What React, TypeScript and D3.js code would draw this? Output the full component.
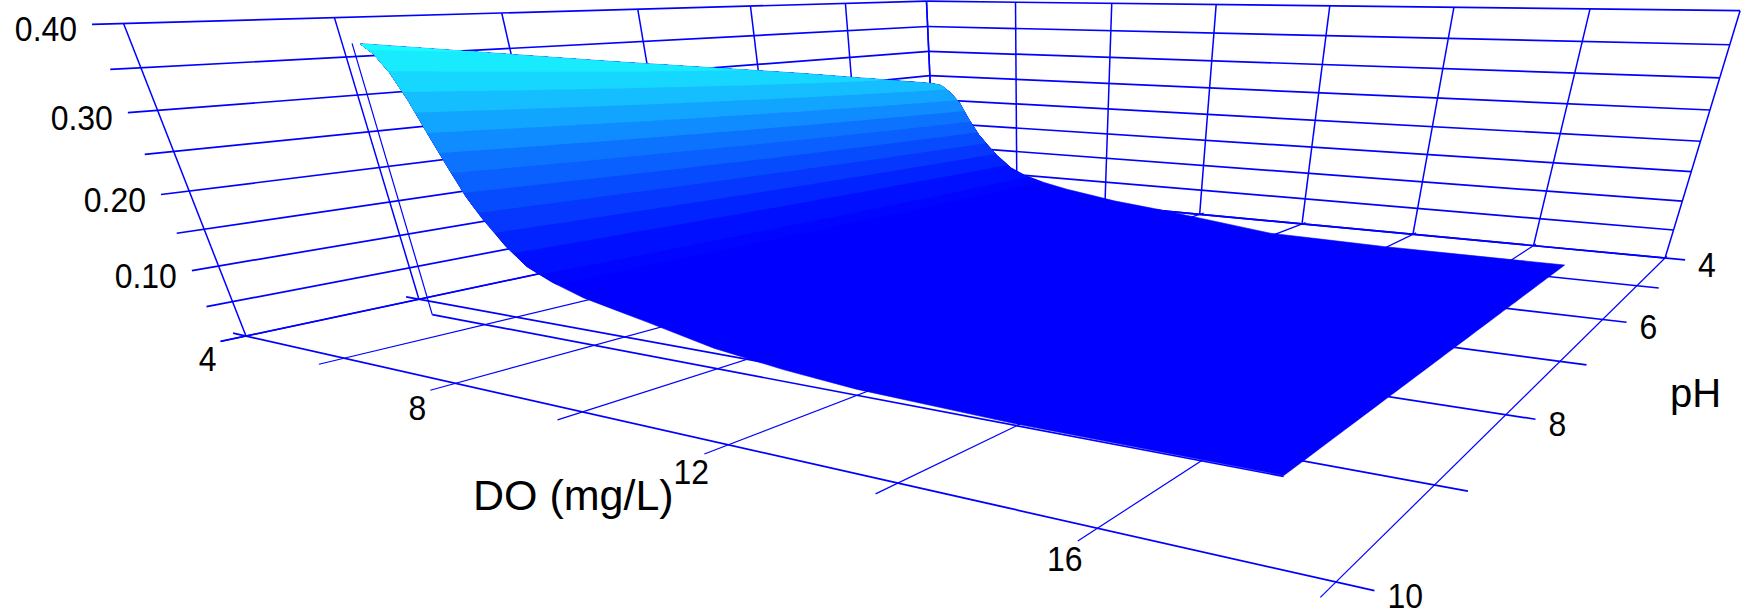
import React from "react";
import * as d3 from "d3";

// ---- data ----
const doTicks = [4, 6, 8, 10, 12, 14, 16, 18];
const doLabels = [4, 8, 12, 16];
const phTicks = [4, 5, 6, 7, 8, 9, 10];
const phLabels = [4, 6, 8, 10];
const zTicks = [0, 0.05, 0.1, 0.15, 0.2, 0.25, 0.3, 0.35, 0.4];
const zLabels = [0.1, 0.2, 0.3, 0.4];

const surfaceDO = [5.1, 5.3, 5.5, 5.7, 5.9, 6.1, 6.3, 6.5, 6.8, 7.1, 7.5, 8, 9, 10, 11, 12, 14, 16.8];
const surfacePH = [4.6, 6.1, 7.7, 9.2];
const zAtPH46 = [0.248, 0.245, 0.232, 0.212, 0.18, 0.152, 0.131, 0.112, 0.089, 0.076, 0.065, 0.055, 0.04, 0.03, 0.018, 0.006, 0.002, 0.001];
const zAtPH61 = [0.29, 0.283, 0.268, 0.243, 0.208, 0.175, 0.149, 0.127, 0.101, 0.084, 0.071, 0.059, 0.043, 0.029, 0.017, 0.007, 0.002, 0.001];
const zAtPH77 = [0.331, 0.322, 0.303, 0.275, 0.236, 0.199, 0.166, 0.143, 0.113, 0.091, 0.076, 0.063, 0.045, 0.028, 0.016, 0.008, 0.002, 0.001];
const zAtPH92 = [0.372, 0.36, 0.338, 0.305, 0.263, 0.223, 0.185, 0.158, 0.124, 0.099, 0.082, 0.067, 0.048, 0.028, 0.016, 0.008, 0.002, 0.001];
const surfaceRows = [zAtPH46, zAtPH61, zAtPH77, zAtPH92];

// colour level = z * weight of the pH row
const colorWeightPH = [4.6, 9.2];
const colorWeight = [1.22, 1];
const bandEdges = [0, 0.08, 0.09, 0.115, 0.14, 0.165, 0.19, 0.215, 0.24, 0.265, 0.29, 0.315, 0.34, 0.365];
const bandColors = [
  "rgb(0,0,255)", "rgb(0,5,255)", "rgb(0,15,255)", "rgb(0,35,255)", "rgb(5,55,255)", "rgb(7,75,255)", "rgb(10,95,255)",
  "rgb(12,115,255)", "rgb(15,140,255)", "rgb(17,165,255)", "rgb(20,190,255)", "rgb(22,215,255)", "rgb(25,235,255)", "rgb(28,250,255)",
];

// ---- scales ----
const uScale = d3.scaleLinear().domain([4, 18]).range([0, 1]);
const vScale = d3.scaleLinear().domain([4, 10]).range([0, 1]);
const tScale = d3.scaleLinear().domain([0, 0.4]).range([0, 1]);

// perspective camera
const M = [
  [327.6, -788.2, -83, 935],
  [6.14, 11.03, -188.4, 189.5],
  [-0.2417, -0.4032, -0.0804, 1],
];
function project(d: number, p: number, z: number): [number, number] {
  const u = uScale(d), v = vScale(p), t = tScale(z);
  const h = M.map((r) => r[0] * u + r[1] * v + r[2] * t + r[3]);
  return [h[0] / h[2], h[1] / h[2]];
}
const line = d3.line<[number, number]>();
const seg = (a: [number, number, number], b: [number, number, number]) =>
  line([project(...a), project(...b)]) as string;

const DO_MIN = 4, DO_MAX = 18, PH_MIN = 4;
const DO_START = 3.72, DO_END = 18.29, PH_START = 3.93, PH_END = 10.13;
const BLUE = "#0000ff";

// Filled colour bands of the surface: each band's polygon is everything with a colour level above its lower edge.
function buildBands() {
  const rowScales = surfaceRows.map((r) => d3.scaleLinear().domain(surfaceDO).range(r));
  const phIdx = d3.scaleLinear().domain(surfacePH).range(surfacePH.map((_, i) => i));
  const weight = d3.scaleLinear().domain(colorWeightPH).range(colorWeight);
  const zAt = (d: number, p: number) => {
    const f = phIdx(p);
    const i = Math.min(Math.floor(f), surfaceRows.length - 2);
    const w = f - i;
    return rowScales[i](d) * (1 - w) + rowScales[i + 1](d) * w;
  };
  const levelAt = (d: number, p: number) => zAt(d, p) * weight(p);
  const phLo = surfacePH[0], phHi = surfacePH[surfacePH.length - 1];
  const doLo = surfaceDO[0], doHi = surfaceDO[surfaceDO.length - 1];
  const phSamples = d3.range(0, 65).map((i) => phLo + ((phHi - phLo) * i) / 64);
  // largest DO where the level is still at or above the threshold
  const reach = (p: number, th: number) => {
    if (th <= 0 || levelAt(doHi, p) >= th) return doHi;
    if (levelAt(doLo, p) < th) return doLo;
    let a = doLo, b = doHi;
    for (let i = 0; i < 30; i++) {
      const m = (a + b) / 2;
      if (levelAt(m, p) >= th) a = m; else b = m;
    }
    return a;
  };
  const along = (to: number) => {
    const pts: number[] = surfaceDO.filter((d) => d < to);
    pts.push(to);
    return pts.flatMap((d, i) => {
      if (i === pts.length - 1) return [d];
      const next = pts[i + 1];
      return [d, (d + next) / 2];
    });
  };
  return bandEdges.map((th, bi) => {
    const poly: [number, number][] = [];
    along(reach(phLo, th)).forEach((d) => poly.push(project(d, phLo, zAt(d, phLo))));
    phSamples.forEach((p) => { const d = reach(p, th); poly.push(project(d, p, zAt(d, p))); });
    along(reach(phHi, th)).reverse().forEach((d) => poly.push(project(d, phHi, zAt(d, phHi))));
    phSamples.slice().reverse().forEach((p) => poly.push(project(doLo, p, zAt(doLo, p))));
    return { d: (line(poly) as string) + "Z", c: bandColors[bi] };
  });
}

export default function App() {
  const bands = buildBands();
  const thick = { stroke: BLUE, strokeWidth: 1.7, fill: "none" };
  const mid = { stroke: BLUE, strokeWidth: 1.5, fill: "none" };
  const thin = { stroke: BLUE, strokeWidth: 1.2, fill: "none" };
  const txt = { fontFamily: "'Liberation Sans', Arial, sans-serif", fill: "#000" };
  const tick = (x: number, y: number, anchor: string, label: string | number, key: string) => (
    <text key={key} transform={`translate(${x},${y}) scale(0.9,1)`} textAnchor={anchor} fontSize={35.5} {...txt}>{label}</text>
  );
  return (
    <svg width={1748} height={616} style={{ position: "absolute", left: 0, top: 0, display: "block", background: "#fff" }}>
      {/* left wall */}
      {zTicks.map((z) => <path key={"lz" + z} d={seg([DO_MIN, PH_MIN, z], [DO_MIN, PH_END, z])} {...thick} />)}
      {phTicks.map((p) => <path key={"lv" + p} d={seg([DO_MIN, p, 0], [DO_MIN, p, 0.4])} {...mid} />)}
      {/* right wall */}
      {zTicks.map((z) => <path key={"rz" + z} d={seg([DO_MIN, PH_MIN, z], [DO_MAX, PH_MIN, z])} {...thick} />)}
      {doTicks.map((d) => <path key={"rv" + d} d={seg([d, PH_MIN, 0], [d, PH_MIN, 0.4])} {...mid} />)}
      {/* floor */}
      {phTicks.map((p) => <path key={"fp" + p} d={seg([DO_START, p, 0], [DO_END, p, 0])} {...thick} />)}
      {doTicks.map((d) => <path key={"fd" + d} d={seg([d, PH_START, 0], [d, PH_END, 0])} {...thin} />)}
      {/* surface frame */}
      <path d={seg([4.95, surfacePH[3], 0], [4.95, surfacePH[3], zAtPH92[0]])} {...thin} />
      <path d={seg([4.95, surfacePH[3], 0], [surfaceDO[surfaceDO.length - 1], surfacePH[3], 0])} {...thick} />
      {/* surface */}
      <g>
        {bands.map((b, i) => <path key={i} d={b.d} fill={b.c} stroke={i === 0 ? b.c : "none"} strokeWidth={0.6} />)}
      </g>
      {/* tick labels */}
      {zLabels.map((z) => {
        const [x, y] = project(DO_MIN, PH_END, z);
        return tick(x - 15, y + 17, "end", z.toFixed(2), "tz" + z);
      })}
      {doLabels.map((d) => {
        const [x, y] = project(d, PH_END, 0);
        return tick(x - 13, y + 30, "middle", d, "td" + d);
      })}
      {phLabels.map((p) => {
        const [x, y] = project(DO_END, p, 0);
        return tick(x + 13, y + 17, "start", p, "tp" + p);
      })}
      <text x={473} y={510} fontSize={43} {...txt}>DO (mg/L)</text>
      <text x={1670} y={407} fontSize={40} {...txt}>pH</text>
    </svg>
  );
}
